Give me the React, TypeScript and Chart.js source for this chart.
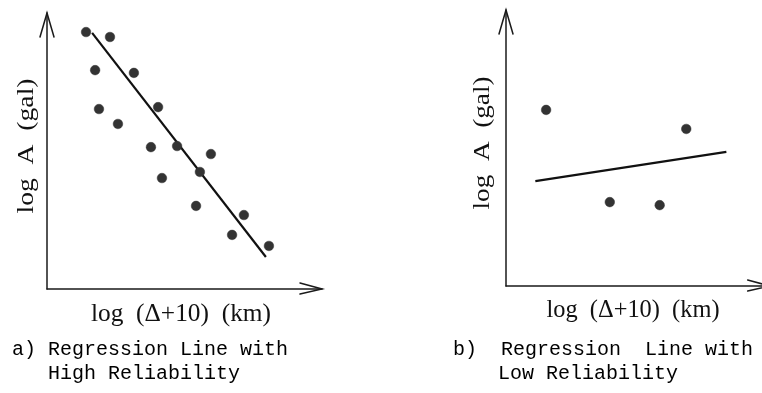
import React, { useEffect, useRef } from "react";
import { Chart, registerables } from "chart.js";

Chart.register(...registerables);

// ---- Panel a) data (arbitrary units 0..10) ----
const aPointsX = [1.42, 2.29, 1.75, 3.16, 1.89, 4.04, 2.58, 3.78, 4.73, 5.96, 4.18, 5.56, 5.42, 7.16, 6.73, 8.07];
const aPointsY = [9.31, 9.13, 7.93, 7.83, 6.52, 6.59, 5.98, 5.14, 5.18, 4.89, 4.02, 4.24, 3.01, 2.68, 1.96, 1.56];
const aLineX = [1.64, 7.96];
const aLineY = [9.28, 1.16];

// ---- Panel b) data ----
const bPointsX = [1.6, 7.19, 4.14, 6.13];
const bPointsY = [6.38, 5.69, 3.04, 2.93];
const bLineX = [1.17, 8.79];
const bLineY = [3.8, 4.86];

// ---- Texts ----
const yTitle = "log  A  (gal)";
const xTitle = "log  (Δ+10)  (km)";
const captionA = ["a) Regression Line with", "High Reliability"];
const captionB = ["b)  Regression  Line with", "Low Reliability"];

type PanelCfg = {
  offsetX: number;
  padding: { left: number; top: number; right: number; bottom: number };
  tipExtra: number;
  yLabel: { x: number; y: number; len: number };
  xLabel: { x: number; y: number; len: number };
  caption: string[];
  capPos: { x: number; y: number }[];
  px: number[];
  py: number[];
  lx: number[];
  ly: number[];
};

const panels: PanelCfg[] = [
  {
    offsetX: 0,
    padding: { left: 47, top: 13, right: 59, bottom: 104 },
    tipExtra: 0,
    yLabel: { x: 33, y: 146, len: 135 },
    xLabel: { x: 181, y: 321, len: 180 },
    caption: captionA,
    capPos: [
      { x: 12, y: 355 },
      { x: 48, y: 379 },
    ],
    px: aPointsX,
    py: aPointsY,
    lx: aLineX,
    ly: aLineY,
  },
  {
    offsetX: 381,
    padding: { left: 125, top: 10, right: 0, bottom: 107 },
    tipExtra: 13,
    yLabel: { x: 489, y: 143, len: 133 },
    xLabel: { x: 633, y: 317, len: 173 },
    caption: captionB,
    capPos: [
      { x: 453, y: 355 },
      { x: 498, y: 379 },
    ],
    px: bPointsX,
    py: bPointsY,
    lx: bLineX,
    ly: bLineY,
  },
];

function makeDecor(cfg: PanelCfg) {
  return {
    id: "decor",
    beforeDatasetsDraw(chart: any) {
      const { ctx, chartArea } = chart;
      const { left, right, top, bottom } = chartArea;
      ctx.save();
      ctx.strokeStyle = "#1a1a1a";
      ctx.lineWidth = 1.5;
      ctx.lineCap = "round";
      // y axis
      ctx.beginPath();
      ctx.moveTo(left, bottom);
      ctx.lineTo(left, top);
      ctx.stroke();
      ctx.beginPath();
      ctx.moveTo(left - 7, top + 24);
      ctx.lineTo(left, top);
      ctx.lineTo(left + 7, top + 24);
      ctx.stroke();
      // x axis
      const tip = right + cfg.tipExtra;
      ctx.beginPath();
      ctx.moveTo(left, bottom);
      ctx.lineTo(tip, bottom);
      ctx.stroke();
      ctx.beginPath();
      ctx.moveTo(tip - 22, bottom - 6);
      ctx.lineTo(tip, bottom);
      ctx.lineTo(tip - 22, bottom + 5);
      ctx.stroke();
      ctx.restore();
    },
    afterDraw(chart: any) {
      const ctx = chart.ctx as CanvasRenderingContext2D;
      const ox = cfg.offsetX;
      ctx.save();
      ctx.fillStyle = "#111";
      // y title
      ctx.save();
      ctx.font = '24px "Liberation Serif", serif';
      ctx.textAlign = "center";
      ctx.textBaseline = "alphabetic";
      ctx.translate(cfg.yLabel.x - ox, cfg.yLabel.y);
      ctx.rotate(-Math.PI / 2);
      const wy = ctx.measureText(yTitle).width;
      ctx.scale(cfg.yLabel.len / wy, 1);
      ctx.fillText(yTitle, 0, 0);
      ctx.restore();
      // x title
      ctx.save();
      ctx.font = '25px "Liberation Serif", serif';
      ctx.textAlign = "center";
      ctx.textBaseline = "alphabetic";
      ctx.translate(cfg.xLabel.x - ox, cfg.xLabel.y);
      const wx = ctx.measureText(xTitle).width;
      ctx.scale(cfg.xLabel.len / wx, 1);
      ctx.fillText(xTitle, 0, 0);
      ctx.restore();
      // captions
      ctx.font = '20px "Liberation Mono", monospace';
      ctx.fillStyle = "#000";
      ctx.textAlign = "left";
      ctx.textBaseline = "alphabetic";
      cfg.caption.forEach((line, i) => {
        ctx.fillText(line, cfg.capPos[i].x - ox, cfg.capPos[i].y);
      });
      ctx.restore();
    },
  };
}

function Panel({ cfg }: { cfg: PanelCfg }) {
  const ref = useRef<HTMLCanvasElement | null>(null);
  useEffect(() => {
    if (!ref.current) return;
    const chart = new Chart(ref.current, {
      type: "scatter",
      data: {
        datasets: [
          {
            data: cfg.px.map((x, i) => ({ x, y: cfg.py[i] })),
            pointRadius: 4.8,
            pointBackgroundColor: "#333",
            pointBorderColor: "#333",
            pointBorderWidth: 0.5,
            showLine: false,
          },
          {
            data: cfg.lx.map((x, i) => ({ x, y: cfg.ly[i] })),
            showLine: true,
            borderColor: "#111",
            borderWidth: 2.2,
            pointRadius: 0,
            fill: false,
          },
        ],
      },
      options: {
        responsive: false,
        animation: false,
        devicePixelRatio: 1,
        layout: { padding: cfg.padding },
        plugins: { legend: { display: false }, tooltip: { enabled: false }, title: { display: false } },
        scales: {
          x: { type: "linear", min: 0, max: 10, display: false },
          y: { type: "linear", min: 0, max: 10, display: false },
        },
        events: [],
      },
      plugins: [makeDecor(cfg)],
    } as any);
    return () => chart.destroy();
  }, [cfg]);
  return (
    <canvas
      ref={ref}
      width={381}
      height={393}
      style={{ position: "absolute", left: cfg.offsetX, top: 0, width: 381, height: 393 }}
    />
  );
}

export default function App() {
  return (
    <div style={{ position: "fixed", left: 0, top: 0, width: 762, height: 393, background: "#fff", overflow: "hidden" }}>
      {panels.map((p, i) => (
        <Panel key={i} cfg={p} />
      ))}
    </div>
  );
}
